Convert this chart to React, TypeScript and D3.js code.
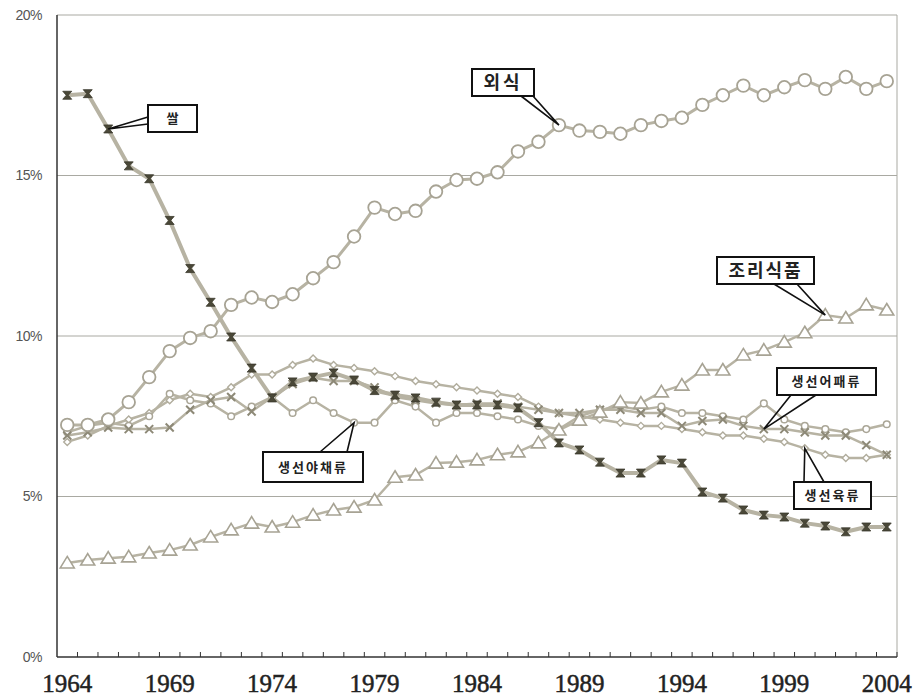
import React from "react";
import * as d3 from "d3";

const years = [
  1964, 1965, 1966, 1967, 1968, 1969, 1970, 1971, 1972, 1973,
  1974, 1975, 1976, 1977, 1978, 1979, 1980, 1981, 1982, 1983,
  1984, 1985, 1986, 1987, 1988, 1989, 1990, 1991, 1992, 1993,
  1994, 1995, 1996, 1997, 1998, 1999, 2000, 2001, 2002, 2003, 2004,
];
const yearLabels = [1964, 1969, 1974, 1979, 1984, 1989, 1994, 1999, 2004];
const yTicks = [0, 5, 10, 15, 20];

// 쌀
const rice = [17.5, 17.55, 16.45, 15.3, 14.9, 13.6, 12.1, 11.05, 9.97, 9.0,
  8.07, 8.57, 8.72, 8.85, 8.63, 8.3, 8.16, 8.07, 7.94, 7.85,
  7.85, 7.85, 7.76, 7.3, 6.67, 6.45, 6.07, 5.73, 5.73, 6.14,
  6.04, 5.14, 4.95, 4.58, 4.42, 4.36, 4.17, 4.08, 3.9, 4.05, 4.05];
// 외식
const eatingOut = [7.23, 7.23, 7.4, 7.94, 8.72, 9.53, 9.94, 10.15, 10.97, 11.2,
  11.06, 11.3, 11.8, 12.3, 13.1, 14.0, 13.8, 13.9, 14.5, 14.86,
  14.9, 15.1, 15.75, 16.05, 16.57, 16.4, 16.36, 16.3, 16.57, 16.7,
  16.8, 17.2, 17.5, 17.8, 17.5, 17.75, 17.97, 17.7, 18.07, 17.7, 17.94];
// 조리식품
const prepared = [2.93, 3.02, 3.08, 3.12, 3.24, 3.33, 3.49, 3.74, 3.96, 4.17,
  4.05, 4.2, 4.42, 4.58, 4.67, 4.89, 5.6, 5.67, 6.04, 6.07,
  6.14, 6.3, 6.39, 6.67, 7.07, 7.38, 7.63, 7.94, 7.91, 8.26,
  8.47, 8.94, 8.94, 9.41, 9.56, 9.81, 10.1, 10.65, 10.56, 10.97, 10.81];
// 생선어패류
const fish = [6.9, 7.0, 7.15, 7.1, 7.1, 7.15, 7.7, 8.0, 8.1, 7.65,
  8.1, 8.5, 8.7, 8.6, 8.6, 8.4, 8.1, 8.0, 7.9, 7.85,
  7.9, 7.9, 7.8, 7.7, 7.6, 7.6, 7.7, 7.7, 7.6, 7.6,
  7.2, 7.35, 7.4, 7.2, 7.1, 7.1, 7.0, 6.9, 6.9, 6.6, 6.3];
// 생선야채류
const vegetables = [7.0, 7.2, 7.3, 7.2, 7.5, 8.2, 8.0, 7.9, 7.5, 7.8,
  8.1, 7.6, 8.0, 7.6, 7.3, 7.3, 8.0, 7.8, 7.3, 7.6,
  7.6, 7.5, 7.4, 7.2, 7.1, 7.5, 7.7, 7.8, 7.7, 7.8,
  7.6, 7.6, 7.5, 7.4, 7.9, 7.4, 7.2, 7.1, 7.0, 7.1, 7.25];
// 생선육류
const meat = [6.7, 6.9, 7.2, 7.4, 7.6, 8.0, 8.2, 8.1, 8.4, 8.8,
  8.8, 9.1, 9.3, 9.1, 9.0, 8.9, 8.75, 8.6, 8.5, 8.4,
  8.3, 8.2, 8.1, 7.8, 7.6, 7.5, 7.4, 7.3, 7.2, 7.2,
  7.1, 7.0, 6.9, 6.9, 6.8, 6.7, 6.5, 6.3, 6.2, 6.2, 6.3];

const W = 914, H = 700;
const left = 57, right = 897, top = 15, bottom = 657;

const x = d3.scaleBand<number>().domain(years).range([left, right]);
const y = d3.scaleLinear().domain([0, 20]).range([bottom, top]);
const cx = (yr: number) => (x(yr) as number) + x.bandwidth() / 2;

const lineGen = d3.line<number>()
  .x((_, i) => cx(years[i]))
  .y((v) => y(v));

const LINE = "#b7b3a3";

type Marker = "circleBig" | "circleSmall" | "triangle" | "hourglass" | "cross" | "diamond";

const series: { key: string; values: number[]; marker: Marker; width: number }[] = [
  { key: "meat", values: meat, marker: "diamond", width: 2.5 },
  { key: "vegetables", values: vegetables, marker: "circleSmall", width: 2.5 },
  { key: "fish", values: fish, marker: "cross", width: 2.5 },
  { key: "prepared", values: prepared, marker: "triangle", width: 2.5 },
  { key: "eatingOut", values: eatingOut, marker: "circleBig", width: 3 },
  { key: "rice", values: rice, marker: "hourglass", width: 4 },
];

function MarkerShape({ type, px, py }: { type: Marker; px: number; py: number }) {
  switch (type) {
    case "circleBig":
      return <circle cx={px} cy={py} r={6.3} fill="#fff" stroke="#a7a394" strokeWidth={1.8} />;
    case "circleSmall":
      return <circle cx={px} cy={py} r={3.3} fill="#fff" stroke="#aaa697" strokeWidth={1.5} />;
    case "triangle":
      return (
        <path
          d={`M${px},${py - 6.5} L${px + 7},${py + 5} L${px - 7},${py + 5} Z`}
          fill="#fff" stroke="#a7a394" strokeWidth={1.6}
        />
      );
    case "hourglass":
      return (
        <path
          d={`M${px - 4.5},${py - 4} L${px + 4.5},${py - 4} L${px + 1},${py} L${px + 4.5},${py + 4} L${px - 4.5},${py + 4} L${px - 1},${py} Z`}
          fill="#4a4838" stroke="#3a382c" strokeWidth={0.8}
        />
      );
    case "cross":
      return (
        <path
          d={`M${px - 4},${py - 4} L${px + 4},${py + 4} M${px - 4},${py + 4} L${px + 4},${py - 4}`}
          stroke="#8d8977" strokeWidth={2}
        />
      );
    case "diamond":
      return (
        <path
          d={`M${px},${py - 3.5} L${px + 3.5},${py} L${px},${py + 3.5} L${px - 3.5},${py} Z`}
          fill="#fff" stroke="#b0ac9c" strokeWidth={1.4}
        />
      );
  }
  return null;
}

const valuesByKey: Record<string, number[]> = {
  rice, eatingOut, prepared, fish, vegetables, meat,
};

const callouts = [
  { text: "쌀", key: "rice", year: 1966, box: [148, 105, 49, 27], base: [[148, 117], [148, 124]], fs: 13, ls: 0 },
  { text: "외식", key: "eatingOut", year: 1988, box: [472, 69, 62, 27], base: [[521, 96], [533, 96]], fs: 18, ls: 3 },
  { text: "조리식품", key: "prepared", year: 2001, box: [717, 257, 97, 27], base: [[774, 284], [797, 284]], fs: 18, ls: 2 },
  { text: "생선어패류", key: "fish", year: 1998, box: [777, 368, 99, 27], base: [[791, 395], [816, 395]], fs: 13, ls: 2 },
  { text: "생선육류", key: "meat", year: 2000, box: [794, 482, 77, 27], base: [[804, 482], [824, 482]], fs: 13, ls: 2 },
  { text: "생선야채류", key: "vegetables", year: 1978, box: [263, 452, 100, 30], base: [[320, 452], [347, 452]], fs: 13, ls: 2 },
];

export default function App() {
  return (
    <svg
      width={W}
      height={H}
      viewBox={`0 0 ${W} ${H}`}
      style={{ position: "absolute", left: 0, top: 0, background: "#fff" }}
    >
      {/* gridlines */}
      {yTicks.filter((t) => t > 0).map((t) => (
        <line key={t} x1={left} x2={right} y1={y(t)} y2={y(t)} stroke="#a9a9a2" strokeWidth={1} />
      ))}
      {/* right border */}
      <line x1={right} x2={right} y1={top} y2={bottom} stroke="#a9a9a2" strokeWidth={1} />

      {/* y labels */}
      {yTicks.map((t) => (
        <text
          key={t}
          x={42}
          y={y(t)}
          dy="0.35em"
          textAnchor="end"
          fontFamily="Liberation Sans, Arial, sans-serif"
          fontSize={14}
          fill="#555"
          letterSpacing={-0.5}
        >
          {t}%
        </text>
      ))}

      {/* series lines */}
      {series.map((s) => (
        <path
          key={s.key}
          d={lineGen(s.values) || ""}
          fill="none"
          stroke={LINE}
          strokeWidth={s.width}
          strokeLinejoin="round"
        />
      ))}
      {/* markers */}
      {series.map((s) => (
        <g key={s.key + "-m"}>
          {s.values.map((v, i) => (
            <MarkerShape key={i} type={s.marker} px={cx(years[i])} py={y(v)} />
          ))}
        </g>
      ))}

      {/* axes */}
      <line x1={left} x2={left} y1={top} y2={bottom} stroke="#333" strokeWidth={1.5} />
      <line x1={left} x2={right} y1={bottom} y2={bottom} stroke="#333" strokeWidth={1.5} />
      {years.map((yr) => (
        <line
          key={yr}
          x1={(x(yr) as number) + x.bandwidth()}
          x2={(x(yr) as number) + x.bandwidth()}
          y1={bottom}
          y2={bottom - 5}
          stroke="#333"
          strokeWidth={1}
        />
      ))}
      {yearLabels.map((yr) => (
        <text
          key={yr}
          x={cx(yr)}
          y={692}
          textAnchor="middle"
          fontFamily="Liberation Serif, Times New Roman, serif"
          fontSize={25}
          fill="#222"
          stroke="#222"
          strokeWidth={0.5}
        >
          {yr}
        </text>
      ))}

      {/* callouts */}
      {callouts.map((c) => {
        const vals = valuesByKey[c.key];
        const i = years.indexOf(c.year);
        const ax = cx(c.year);
        const ay = y(vals[i]);
        const [bx, by, bw, bh] = c.box;
        return (
          <g key={c.text}>
            <path
              d={`M${c.base[0][0]},${c.base[0][1]} L${ax},${ay} L${c.base[1][0]},${c.base[1][1]}`}
              fill="none"
              stroke="#111"
              strokeWidth={1.6}
            />
            <rect x={bx} y={by} width={bw} height={bh} fill="#fff" stroke="#111" strokeWidth={2} />
            <text
              x={bx + bw / 2}
              y={by + bh / 2}
              dy="0.36em"
              textAnchor="middle"
              fontFamily="Noto Sans CJK KR, sans-serif"
              fontWeight="bold"
              fontSize={c.fs}
              letterSpacing={c.ls}
              fill="#222"
            >
              {c.text}
            </text>
          </g>
        );
      })}
    </svg>
  );
}
